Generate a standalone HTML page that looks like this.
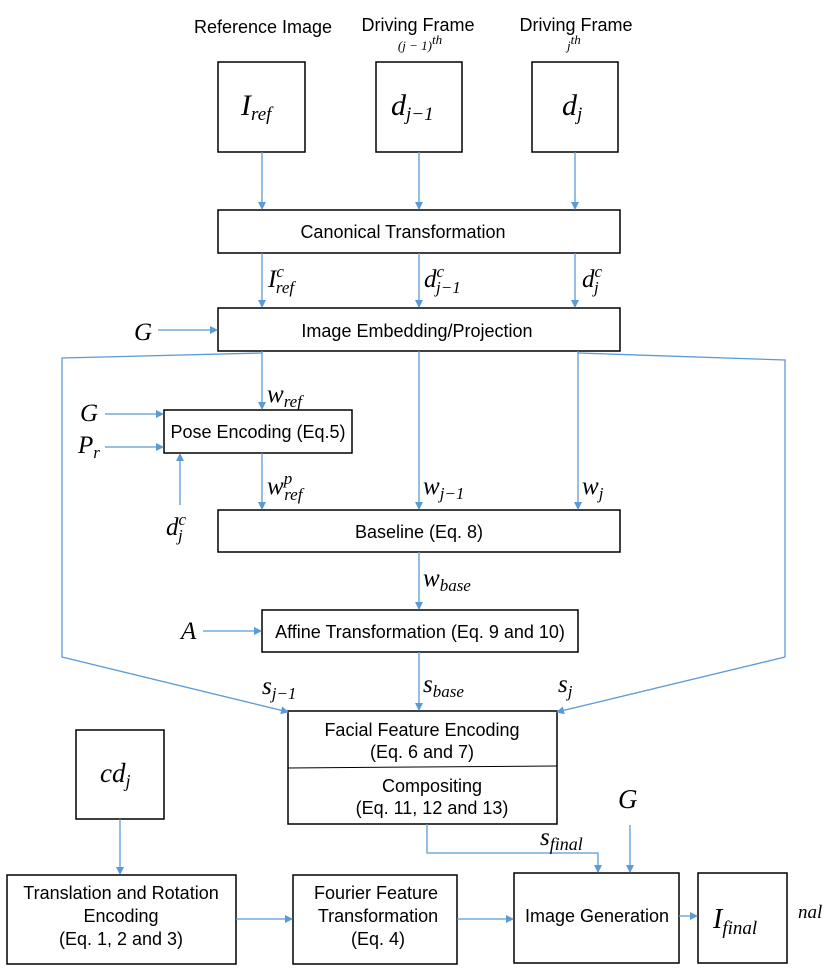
<!DOCTYPE html><html><head><style>body{margin:0;background:#fff}svg{display:block}
.t{font-family:"Liberation Sans",sans-serif;font-size:18px;text-anchor:middle}
.m{font-family:"Liberation Serif",serif;font-style:italic;font-size:25px}
</style></head><body>
<svg width="830" height="978" viewBox="0 0 830 978">
<defs><marker id="a" markerWidth="8" markerHeight="8" refX="7" refY="4" orient="auto" markerUnits="userSpaceOnUse"><path d="M0,0L8,4L0,8z" fill="#5b9bd5"/></marker></defs>
<g fill="none" stroke="#000" stroke-width="1.5">
<rect x="218" y="62" width="87" height="90"/><rect x="376" y="62" width="86" height="90"/><rect x="532" y="62" width="86" height="90"/>
<rect x="218" y="210" width="402" height="43"/><rect x="218" y="308" width="402" height="43"/>
<rect x="164" y="410" width="188" height="43"/><rect x="218" y="510" width="402" height="42"/>
<rect x="262" y="610" width="316" height="42"/><rect x="288" y="711" width="269" height="113"/>
<line x1="288" y1="768" x2="557" y2="766" stroke-width="1"/>
<rect x="76" y="730" width="88" height="89"/><rect x="7" y="875" width="229" height="89"/>
<rect x="293" y="875" width="164" height="89"/><rect x="514" y="873" width="165" height="90"/>
<rect x="698" y="873" width="89" height="90"/></g>
<g stroke="#5b9bd5" stroke-width="1.3" fill="none" marker-end="url(#a)">
<line x1="262" y1="152" x2="262" y2="209"/><line x1="419" y1="152" x2="419" y2="209"/><line x1="575" y1="152" x2="575" y2="209"/>
<line x1="262" y1="253" x2="262" y2="307"/><line x1="419" y1="253" x2="419" y2="307"/><line x1="575" y1="253" x2="575" y2="307"/>
<line x1="158" y1="330" x2="217" y2="330"/>
<line x1="262" y1="351" x2="262" y2="409"/><line x1="419" y1="351" x2="419" y2="509"/><line x1="578" y1="351" x2="578" y2="509"/>
<line x1="105" y1="414" x2="163" y2="414"/><line x1="105" y1="447" x2="163" y2="447"/>
<line x1="180" y1="505" x2="180" y2="454"/>
<line x1="262" y1="453" x2="262" y2="509"/>
<line x1="419" y1="552" x2="419" y2="609"/><line x1="203" y1="631" x2="261" y2="631"/>
<line x1="419" y1="652" x2="419" y2="710"/>
<polyline points="262,353 62,358 62,657 288,712"/>
<polyline points="578,353 785,360 785,657 557,712"/>
<polyline points="427,824 427,853 598,853 598,872"/>
<line x1="630" y1="825" x2="630" y2="872"/>
<line x1="120" y1="819" x2="120" y2="874"/>
<line x1="236" y1="919" x2="292" y2="919"/><line x1="457" y1="919" x2="513" y2="919"/><line x1="679" y1="916" x2="697" y2="916"/>
</g>
<text class="t" x="263" y="33">Reference Image</text><text class="t" x="418" y="31">Driving Frame</text><text class="t" x="576" y="31">Driving Frame</text>
<text class="m" x="420" y="50" style="font-size:13px" text-anchor="middle">(j − 1)<tspan dy="-6">th</tspan></text>
<text class="m" x="567" y="50" style="font-size:13px">j<tspan dy="-6">th</tspan></text>
<text class="m" x="241" y="115" style="font-size:30px">I<tspan font-size="19" dy="5">ref</tspan></text>
<text class="m" x="391" y="115" style="font-size:30px">d<tspan font-size="19" dy="5">j−1</tspan></text>
<text class="m" x="562" y="115" style="font-size:30px">d<tspan font-size="19" dy="5">j</tspan></text>
<text class="t" x="403" y="238">Canonical Transformation</text>
<text class="m" x="268" y="287">I<tspan font-size="17" dy="-10">c</tspan><tspan font-size="17" dx="-8" dy="16">ref</tspan></text>
<text class="m" x="424" y="287">d<tspan font-size="17" dy="-10">c</tspan><tspan font-size="17" dx="-8" dy="16">j−1</tspan></text>
<text class="m" x="582" y="287">d<tspan font-size="17" dy="-10">c</tspan><tspan font-size="17" dx="-8" dy="16">j</tspan></text>
<text class="m" x="134" y="340">G</text>
<text class="t" x="417" y="337">Image Embedding/Projection</text>
<text class="m" x="267" y="402">w<tspan font-size="17" dy="5">ref</tspan></text>
<text class="m" x="80" y="421">G</text><text class="m" x="78" y="453">P<tspan font-size="17" dy="5">r</tspan></text>
<text class="t" x="258" y="438">Pose Encoding (Eq.5)</text>
<text class="m" x="166" y="535">d<tspan font-size="17" dy="-10">c</tspan><tspan font-size="17" dx="-8" dy="16">j</tspan></text>
<text class="m" x="267" y="494">w<tspan font-size="17" dy="-10">p</tspan><tspan font-size="17" dx="-8" dy="16">ref</tspan></text>
<text class="m" x="423" y="494">w<tspan font-size="17" dy="5">j−1</tspan></text>
<text class="m" x="582" y="494">w<tspan font-size="17" dy="5">j</tspan></text>
<text class="t" x="419" y="538">Baseline (Eq. 8)</text>
<text class="m" x="423" y="586">w<tspan font-size="17" dy="5">base</tspan></text>
<text class="m" x="181" y="639">A</text>
<text class="t" x="420" y="638">Affine Transformation (Eq. 9 and 10)</text>
<text class="m" x="262" y="694">s<tspan font-size="17" dy="5">j−1</tspan></text>
<text class="m" x="423" y="692">s<tspan font-size="17" dy="5">base</tspan></text>
<text class="m" x="558" y="692">s<tspan font-size="17" dy="5">j</tspan></text>
<text class="t" x="422" y="736">Facial Feature Encoding</text><text class="t" x="422" y="758">(Eq. 6 and 7)</text>
<text class="t" x="432" y="792">Compositing</text><text class="t" x="432" y="814">(Eq. 11, 12 and 13)</text>
<text class="m" x="100" y="782" style="font-size:27px">cd<tspan font-size="18" dy="5">j</tspan></text>
<text class="m" x="618" y="808" style="font-size:27px">G</text>
<text class="m" x="540" y="845">s<tspan font-size="18" dy="5">final</tspan></text>
<text class="t" x="121" y="899">Translation and Rotation</text><text class="t" x="121" y="922">Encoding</text><text class="t" x="121" y="945">(Eq. 1, 2 and 3)</text>
<text class="t" x="376" y="899">Fourier Feature</text><text class="t" x="378" y="922">Transformation</text><text class="t" x="378" y="945">(Eq. 4)</text>
<text class="t" x="597" y="922">Image Generation</text>
<text class="m" x="713" y="928" style="font-size:28px">I<tspan font-size="19" dy="6">final</tspan></text>
<text class="m" x="798" y="918" style="font-size:19px">nal</text>
</svg></body></html>
